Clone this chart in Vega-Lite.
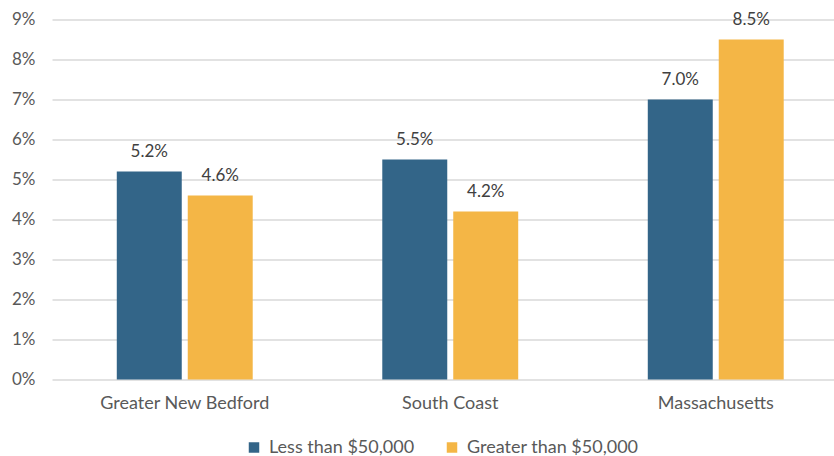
{
  "$schema": "https://vega.github.io/schema/vega-lite/v6.json",
  "width": 782,
  "height": 360,
  "autosize": {"type": "none"},
  "padding": {"left": 52, "top": 19.5, "right": 0, "bottom": 76.5},
  "background": "white",
  "config": {
    "view": {"stroke": null},
    "font": "Lato",
    "text": {"font": "Lato"}
  },
  "data": {
    "values": [
      {"region": "Greater New Bedford", "income": "Less than $50,000", "value": 0.052},
      {"region": "Greater New Bedford", "income": "Greater than $50,000", "value": 0.046},
      {"region": "South Coast", "income": "Less than $50,000", "value": 0.055},
      {"region": "South Coast", "income": "Greater than $50,000", "value": 0.042},
      {"region": "Massachusetts", "income": "Less than $50,000", "value": 0.070},
      {"region": "Massachusetts", "income": "Greater than $50,000", "value": 0.085}
    ]
  },
  "encoding": {
    "x": {
      "field": "region",
      "type": "nominal",
      "sort": ["Greater New Bedford", "South Coast", "Massachusetts"],
      "scale": {"range": [0, 796.5], "paddingInner": 0.488, "paddingOuter": 0.244},
      "axis": {
        "title": null,
        "labelAngle": 0,
        "domain": false,
        "ticks": false,
        "labelFont": "Lato",
        "labelFontSize": 18,
        "labelColor": "#595959",
        "labelPadding": 15
      }
    },
    "xOffset": {
      "field": "income",
      "type": "nominal",
      "sort": ["Less than $50,000", "Greater than $50,000"],
      "scale": {"paddingInner": 0.0845, "paddingOuter": 0}
    },
    "y": {
      "field": "value",
      "type": "quantitative",
      "scale": {"domain": [0, 0.09], "nice": false},
      "axis": {
        "title": null,
        "format": ".0%",
        "values": [0, 0.01, 0.02, 0.03, 0.04, 0.05, 0.06, 0.07, 0.08, 0.09],
        "domain": false,
        "ticks": false,
        "labelFont": "Lato",
        "labelFontSize": 17,
        "labelColor": "#595959",
        "labelPadding": 17,
        "gridColor": "#D9D9D9",
        "gridWidth": 1.5
      }
    }
  },
  "layer": [
    {
      "mark": {"type": "bar"},
      "encoding": {
        "color": {
          "field": "income",
          "type": "nominal",
          "sort": ["Less than $50,000", "Greater than $50,000"],
          "scale": {"domain": ["Less than $50,000", "Greater than $50,000"], "range": ["#336588", "#F4B646"]},
          "legend": {
            "title": null,
            "orient": "none",
            "legendX": 193,
            "legendY": 419,
            "direction": "horizontal",
            "symbolType": "square",
            "symbolSize": 110,
            "symbolStrokeWidth": 0,
            "labelFont": "Lato",
            "labelFontSize": 18,
            "labelColor": "#595959",
            "labelOffset": 6,
            "labelLimit": 400,
            "columnPadding": 28
          }
        }
      }
    },
    {
      "mark": {"type": "text", "baseline": "bottom", "dy": -11, "font": "Lato", "fontSize": 17, "color": "#404040"},
      "encoding": {
        "text": {"field": "value", "type": "quantitative", "format": ".1%"}
      }
    }
  ]
}
